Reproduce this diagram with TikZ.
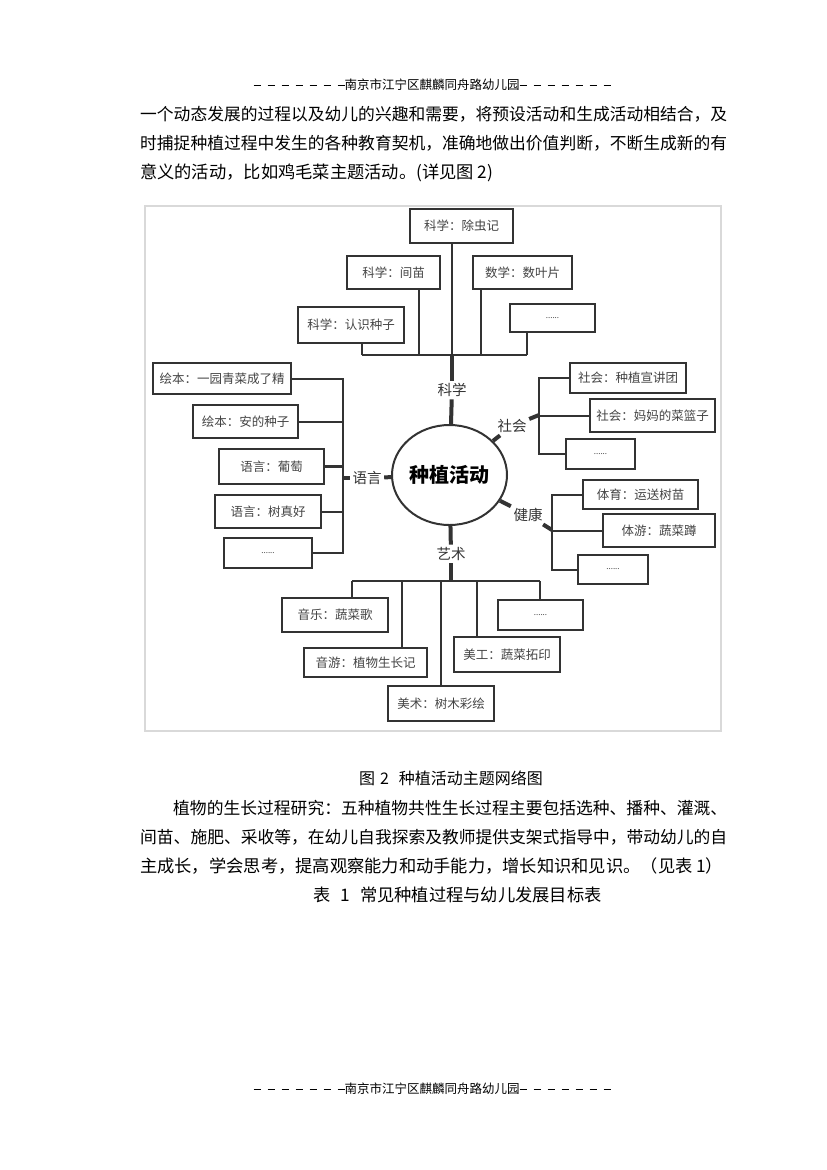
\documentclass[tikz,border=0pt]{standalone}
\usepackage{fontspec}
\usepackage{graphicx}
\setmainfont{Noto Sans CJK SC}
\usetikzlibrary{shapes.geometric}
\definecolor{ln}{HTML}{333333}
\definecolor{tx}{HTML}{444444}
\definecolor{fr}{HTML}{D9D9D9}
\newcommand\hd{\rule[4.2pt]{7pt}{1pt}}
\newcommand\hg{\hspace{7pt}}
\newcommand\hdl{\hd\hg\hd\hg\hd\hg\hd\hg\hd\hg\hd\hg\hd}
\tikzset{
  box/.style={draw=ln, line width=2.4pt, fill=white, text=tx, font=\fontsize{12.5}{12.5}\selectfont, inner sep=0pt},
  dots/.style={box, font=\fontsize{8}{8}\selectfont},
  conn/.style={draw=ln, line width=2pt},
  stub/.style={draw=ln, line width=4pt},
  lab/.style={text=ln, font=\fontsize{14.5}{14.5}\selectfont, inner sep=2.5pt},
  body/.style={anchor=base west, inner sep=0pt, font=\fontsize{17.26}{17.26}\selectfont},
  hdr/.style={inner sep=0pt, font=\fontsize{12.5}{12.5}\selectfont},
}
\begin{document}
\begin{tikzpicture}[x=1pt,y=-1pt]
\useasboundingbox (0,0) rectangle (827,1170);
\fill[white] (0,0) rectangle (827,1170);

% header and footer
\node[hdr] (head) at (432,85) {\hdl 南京市江宁区麒麟同舟路幼儿园\hdl};
\node[hdr] (foot) at (432,1089) {\hdl 南京市江宁区麒麟同舟路幼儿园\hdl};

% body text
\node[body] (t1) at (140,120.6) {\resizebox{587pt}{!}{一个动态发展的过程以及幼儿的兴趣和需要，将预设活动和生成活动相结合，及}};
\node[body] (t2) at (140,149.6) {\resizebox{587pt}{!}{时捕捉种植过程中发生的各种教育契机，准确地做出价值判断，不断生成新的有}};
\node[body] (t3) at (140,178.6) {意义的活动，比如鸡毛菜主题活动。(详见图 2)};

% frame
\draw[fr, line width=1.5pt] (145,206) rectangle (721,731);

% centre
\node[ellipse, draw=ln, line width=2pt, minimum width=115pt, minimum height=100pt, inner sep=0pt, font=\fontsize{20}{20}\selectfont\bfseries] (c) at (449.5,475) {种植活动};

% labels
\node[lab] (sciL) at (452,390) {科学};
\node[lab] (artL) at (451,554) {艺术};
\node[lab] (lanL) at (367,478) {语言};
\node[lab] (socL) at (512,426) {社会};
\node[lab] (heaL) at (528,515) {健康};

% junctions
\coordinate (sciJ) at (452,355);
\coordinate (artJ) at (451,581);
\coordinate (lanJ) at (343,478);
\coordinate (socJ) at (539,415);
\coordinate (heaJ) at (552,530);

% science boxes
\node[box, minimum width=103pt, minimum height=34pt] (s1) at (461.5,226) {科学：除虫记};
\node[box, minimum width=93pt, minimum height=33pt] (s2) at (393.5,272.5) {科学：间苗};
\node[box, minimum width=106pt, minimum height=36pt] (s3) at (351,325) {科学：认识种子};
\node[box, minimum width=99pt, minimum height=33pt] (s4) at (522.5,272.5) {数学：数叶片};
\node[dots, minimum width=85pt, minimum height=28pt] (s5) at (552.5,318) {......};

% language boxes
\node[box, minimum width=138pt, minimum height=31pt] (l1) at (222,378.5) {绘本：一园青菜成了精};
\node[box, minimum width=105pt, minimum height=33pt] (l2) at (245.5,421.5) {绘本：安的种子};
\node[box, minimum width=105pt, minimum height=35pt] (l3) at (271.5,466.5) {语言：葡萄};
\node[box, minimum width=106pt, minimum height=33pt] (l4) at (268,511.5) {语言：树真好};
\node[dots, minimum width=88pt, minimum height=30pt] (l5) at (268,553) {......};

% social boxes
\node[box, minimum width=116pt, minimum height=30pt] (o1) at (628,378) {社会：种植宣讲团};
\node[box, minimum width=125pt, minimum height=33pt] (o2) at (652.5,415.5) {社会：妈妈的菜篮子};
\node[dots, minimum width=69pt, minimum height=30pt] (o3) at (600.5,454) {......};

% health boxes
\node[box, minimum width=115pt, minimum height=29pt] (h1) at (640.5,494.5) {体育：运送树苗};
\node[box, minimum width=112pt, minimum height=33pt] (h2) at (659,530.5) {体游：蔬菜蹲};
\node[dots, minimum width=70pt, minimum height=29pt] (h3) at (613,569.5) {......};

% art boxes
\node[box, minimum width=106pt, minimum height=34pt] (a1) at (335,615) {音乐：蔬菜歌};
\node[box, minimum width=123pt, minimum height=29pt] (a2) at (365.5,662.5) {音游：植物生长记};
\node[box, minimum width=106pt, minimum height=35pt] (a3) at (441,703.5) {美术：树木彩绘};
\node[box, minimum width=106pt, minimum height=35pt] (a4) at (507,654.5) {美工：蔬菜拓印};
\node[dots, minimum width=85pt, minimum height=30pt] (a5) at (540.5,615) {......};

% stubs
\draw[stub] (c) -- (sciL);
\draw[stub] (sciL) -- (sciJ);
\draw[stub] (c) -- (artL);
\draw[stub] (artL) -- (artJ);
\draw[stub] (c) -- (lanL);
\draw[stub] (lanL) -- (lanJ);
\draw[stub] (c) -- (socL);
\draw[stub] (socL) -- (socJ);
\draw[stub] (c) -- (heaL);
\draw[stub] (heaL) -- (heaJ);

% science bus
\coordinate (j1) at (362,355);
\coordinate (j2) at (419,355);
\coordinate (j4) at (481,355);
\coordinate (j5) at (527,355);
\draw[conn] (j1) -- (j5);
\draw[conn] (j1) -- (j1 |- s3.south);
\draw[conn] (j2) -- (j2 |- s2.south);
\draw[conn] (sciJ) -- (sciJ |- s1.south);
\draw[conn] (j4) -- (j4 |- s4.south);
\draw[conn] (j5) -- (j5 |- s5.south);

% language bus
\draw[conn] (l1.east) -- (l1.east -| lanJ) -- (l5.east -| lanJ) -- (l5.east);
\draw[conn] (l2.east) -- (l2.east -| lanJ);
\draw[conn, line width=2.8pt] (l3.east) -- (l3.east -| lanJ);
\draw[conn] (l4.east) -- (l4.east -| lanJ);

% social bus
\draw[conn] (o1.west) -- (o1.west -| socJ) -- (o3.west -| socJ) -- (o3.west);
\draw[conn] (o2.west) -- (o2.west -| socJ);

% health bus
\draw[conn] (h1.west) -- (h1.west -| heaJ) -- (h3.west -| heaJ) -- (h3.west);
\draw[conn] (h2.west) -- (h2.west -| heaJ);

% art bus
\coordinate (k1) at (352,581);
\coordinate (k2) at (402,581);
\coordinate (k3) at (441,581);
\coordinate (k4) at (477,581);
\coordinate (k5) at (540,581);
\draw[conn] (k1) -- (k5);
\draw[conn] (k1) -- (k1 |- a1.north);
\draw[conn] (k2) -- (k2 |- a2.north);
\draw[conn] (k3) -- (k3 |- a3.north);
\draw[conn] (k4) -- (k4 |- a4.north);
\draw[conn] (k5) -- (k5 |- a5.north);

% caption and text below
\node[anchor=base, inner sep=0pt, font=\fontsize{16}{16}\selectfont] (cap) at (451,784.6) {图\hspace{5pt}2\hspace{10pt}种植活动主题网络图};
\node[body] (p1) at (173,814.6) {\resizebox{554pt}{!}{植物的生长过程研究：五种植物共性生长过程主要包括选种、播种、灌溉、}};
\node[body] (p2) at (140,843.6) {\resizebox{587pt}{!}{间苗、施肥、采收等，在幼儿自我探索及教师提供支架式指导中，带动幼儿的自}};
\node[body] (p3) at (140,872.6) {主成长，学会思考，提高观察能力和动手能力，增长知识和见识。（见表 1）};
\node[body] (tb) at (313,901.6) {表\hspace{10pt}1\hspace{10pt}常见种植过程与幼儿发展目标表};
\end{tikzpicture}
\end{document}
